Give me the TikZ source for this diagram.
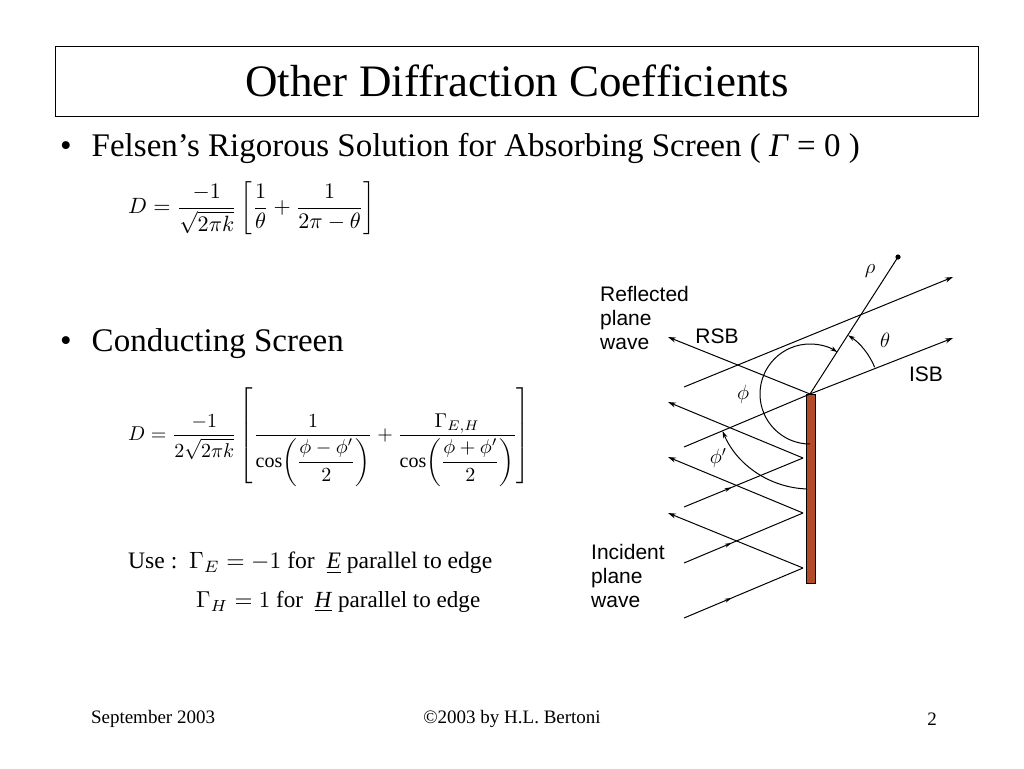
\documentclass[tikz,border=0pt]{standalone}
\usepackage{fontspec}
\usepackage{amsmath}
\setmainfont{Liberation Serif}
\setsansfont{Liberation Sans}
\usetikzlibrary{arrows.meta,decorations.markings}
\definecolor{screen}{RGB}{180,75,40}
\begin{document}
\begin{tikzpicture}[x=1pt,y=-1pt,
  ray/.style={line width=1pt},
  arr/.style={ray,-{Stealth[length=8pt,width=5pt]}},
  midarr/.style={ray,decoration={markings,mark=at position 0.4 with {\arrow{Stealth[length=7pt,width=4pt]}}},postaction=decorate},
  lab/.style={font=\sffamily\fontsize{21}{24}\selectfont,align=left,inner sep=0pt},
  tx/.style={inner sep=0pt,anchor=west}]
\useasboundingbox (0,0) rectangle (1024,768);
\fill[white] (0,0) rectangle (1024,768);
% title
\draw[line width=0.7pt] (55,46) rectangle (978,116);
\node (title) at (517,81) {\fontsize{45}{50}\selectfont Other Diffraction Coefficients};
% bullets
\node[tx] (b1) at (60,148) {\fontsize{33}{37}\selectfont •\hspace{20pt}Felsen’s Rigorous Solution for Absorbing Screen ( \textit{Γ} = 0 )};
\node[tx] (eq1) at (128,208) {\resizebox{247pt}{!}{$D=\dfrac{-1}{\sqrt{2\pi k}}\left[\dfrac{1}{\theta}+\dfrac{1}{2\pi-\theta}\right]$}};
\node[tx] (b2) at (60,344) {\fontsize{33}{37}\selectfont •\hspace{20pt}Conducting Screen};
\node[tx] (eq2) at (128,437) {\resizebox{402pt}{!}{$D=\dfrac{-1}{2\sqrt{2\pi k}}\left[\rule[-20pt]{0pt}{44pt}\dfrac{1}{\cos\!\left(\dfrac{\phi-\phi'}{2}\right)}+\dfrac{\Gamma_{E,H}}{\cos\!\left(\dfrac{\phi+\phi'}{2}\right)}\right]$}};
\node[tx] (use1) at (128,563) {\resizebox{364pt}{!}{Use :\ \ $\Gamma_E=-1$ for \ \underline{\textit{E}} parallel to edge}};
\node[tx] (use2) at (196,602) {\resizebox{284pt}{!}{$\Gamma_H=1$ for \ \underline{\textit{H}} parallel to edge}};
% footer
\node (f1) at (153,719) {\fontsize{19}{22}\selectfont September 2003};
\node (f2) at (512,719) {\fontsize{19}{22}\selectfont ©2003 by H.L. Bertoni};
\node (f3) at (932,719) {\fontsize{19}{22}\selectfont 2};
% diagram
\coordinate (E) at (810,394);
\fill[screen] (806,394) rectangle (815,583);
\draw[line width=0.6pt] (806,394) rectangle (815,583);
\coordinate (t0) at (684,387); \coordinate (t1) at (953,277);
\draw[arr] (t0) -- (t1);
\coordinate (i0) at (684,447); \coordinate (i1) at (953,338);
\draw[arr] (i0) -- (E) -- (i1);
\coordinate (rsb) at (668,337);
\draw[arr] (E) -- (rsb);
\foreach \k/\yi/\yh/\yr in {1/507/458/402, 2/563/513/457, 3/618/568/513}{
  \coordinate (a\k) at (684,\yi);
  \coordinate (h\k) at (803,\yh);
  \coordinate (r\k) at (668,\yr);
  \draw[midarr] (a\k) -- (h\k);
  \draw[arr] (h\k) -- (r\k);
}
\coordinate (P) at (898,257);
\draw[ray] (E) -- (P);
\fill (P) circle (2.6pt);
\node (rho) at (870,271) {\fontsize{21}{24}\selectfont $\rho$};
% theta arc
\draw[ray,-{Stealth[length=7pt,width=4.5pt]}] ([shift={(-22.5:70)}]E) arc[start angle=-22.5,end angle=-57,radius=70];
\node (th) at (885,340) {\fontsize{21}{24}\selectfont $\theta$};
% phi arc
\draw[ray,-{Stealth[length=7pt,width=4.5pt]}] ([shift={(90:50)}]E) arc[start angle=90,end angle=303,radius=50];
\node (ph) at (743,394) {\fontsize{21}{24}\selectfont $\phi$};
% phi' arc
\draw[ray,-{Stealth[length=7pt,width=4.5pt]}] ([shift={(92:95)}]E) arc[start angle=92,end angle=157,radius=95];
\node (php) at (718,458) {\fontsize{21}{24}\selectfont $\phi'$};
% labels
\node[lab,anchor=north west] (refl) at (600,286) {Reflected\\plane\\wave};
\node[lab] (rsbl) at (717,336) {RSB};
\node[lab] (isbl) at (926,374) {ISB};
\node[lab,anchor=north west] (inc) at (591,544) {Incident\\plane\\wave};
\end{tikzpicture}
\end{document}
